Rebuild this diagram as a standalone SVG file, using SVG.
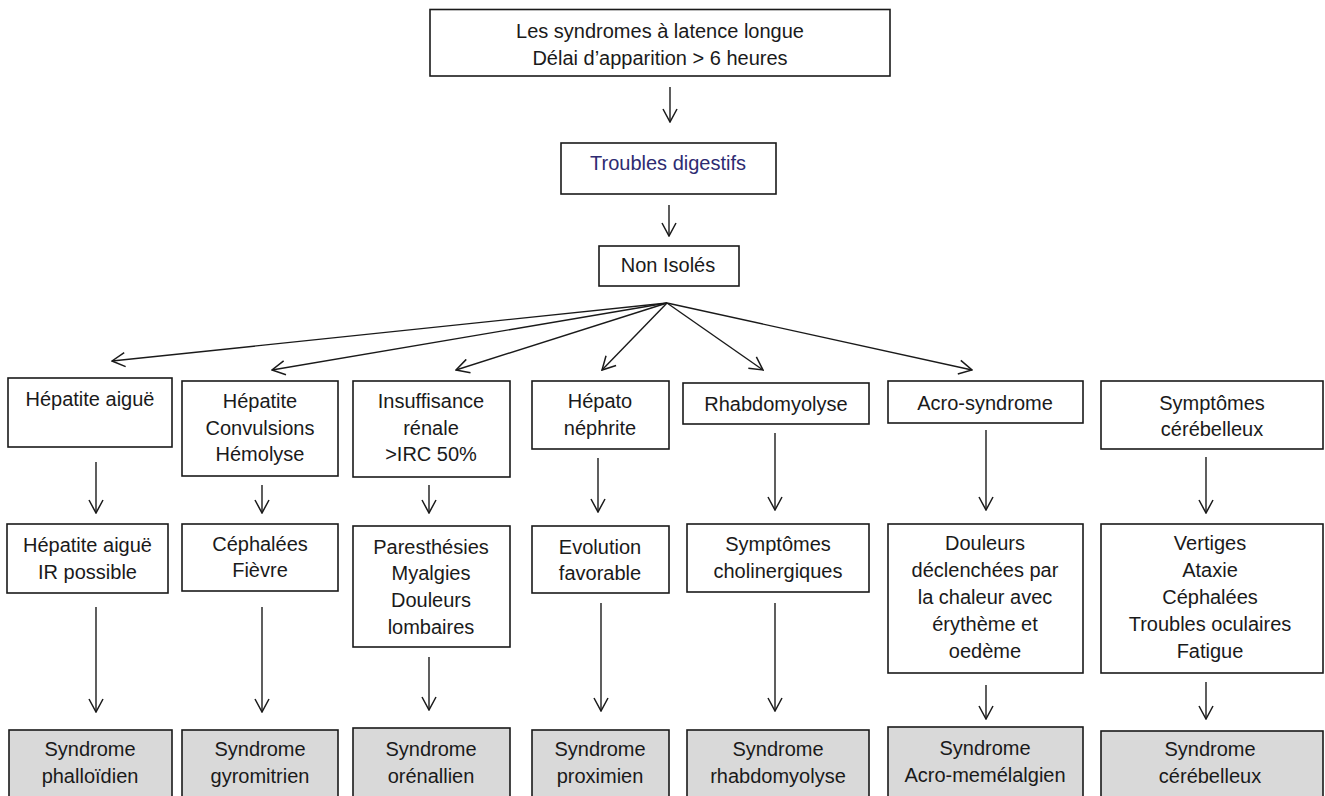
<svg xmlns="http://www.w3.org/2000/svg" width="1325" height="796" viewBox="0 0 1325 796">
<style>
.box{fill:#ffffff;stroke:#1a1a1a;stroke-width:1.6}
.end{fill:#d9d9d9;stroke:#1a1a1a;stroke-width:1.6}
.t{font-family:"Liberation Sans",Arial,sans-serif;font-size:20px;fill:#1a1a1a;text-anchor:middle}
.navy{fill:#2e2b72}
.c{stroke:#1a1a1a;stroke-width:1.4;fill:none;marker-end:url(#ah)}
</style>
<defs>
<marker id="ah" markerUnits="userSpaceOnUse" markerWidth="16" markerHeight="16" viewBox="0 0 16 16" refX="15" refY="8" orient="auto">
<path d="M2,1 L15,8 L2,15" fill="none" stroke="#1a1a1a" stroke-width="1.5"/>
</marker>
</defs>
<rect width="1325" height="796" fill="#ffffff"/>

<g id="connectors">
<line class="c" x1="670" y1="87" x2="670" y2="122"/>
<line class="c" x1="669" y1="205" x2="669" y2="236"/>
<line class="c" x1="667" y1="303" x2="112" y2="361"/>
<line class="c" x1="667" y1="303" x2="272" y2="370"/>
<line class="c" x1="667" y1="303" x2="456" y2="370"/>
<line class="c" x1="667" y1="303" x2="602" y2="370"/>
<line class="c" x1="667" y1="303" x2="763" y2="370"/>
<line class="c" x1="667" y1="303" x2="972" y2="370"/>
<line class="c" x1="96" y1="462" x2="96" y2="513"/>
<line class="c" x1="262" y1="485" x2="262" y2="513"/>
<line class="c" x1="429" y1="485" x2="429" y2="513"/>
<line class="c" x1="598" y1="458" x2="598" y2="512"/>
<line class="c" x1="775" y1="433" x2="775" y2="510"/>
<line class="c" x1="986" y1="430" x2="986" y2="510"/>
<line class="c" x1="1206" y1="457" x2="1206" y2="513"/>
<line class="c" x1="96" y1="607" x2="96" y2="712"/>
<line class="c" x1="262" y1="607" x2="262" y2="712"/>
<line class="c" x1="429" y1="657" x2="429" y2="710"/>
<line class="c" x1="601" y1="603" x2="601" y2="711"/>
<line class="c" x1="775" y1="603" x2="775" y2="711"/>
<line class="c" x1="986" y1="685" x2="986" y2="719"/>
<line class="c" x1="1206" y1="682" x2="1206" y2="719"/>
</g>

<g id="top">
<rect class="box" x="430" y="9.5" width="460" height="66.5"/>
<text class="t" x="660" y="38">Les syndromes à latence longue</text>
<text class="t" x="660" y="65">Délai d’apparition &gt; 6 heures</text>
</g>
<g id="troubles">
<rect class="box" x="561" y="143" width="215" height="51"/>
<text class="t navy" x="668" y="170">Troubles digestifs</text>
</g>
<g id="nonisoles">
<rect class="box" x="599" y="246" width="140" height="40"/>
<text class="t" x="668" y="272">Non Isolés</text>
</g>

<g id="r1c1">
<rect class="box" x="8" y="378" width="164" height="69"/>
<text class="t" x="90" y="406">Hépatite aiguë</text>
</g>
<g id="r1c2">
<rect class="box" x="182" y="381" width="156" height="95"/>
<text class="t" x="260" y="408">Hépatite</text>
<text class="t" x="260" y="435">Convulsions</text>
<text class="t" x="260" y="461">Hémolyse</text>
</g>
<g id="r1c3">
<rect class="box" x="353" y="381" width="157" height="96"/>
<text class="t" x="431" y="408">Insuffisance</text>
<text class="t" x="431" y="435">rénale</text>
<text class="t" x="431" y="461">&gt;IRC 50%</text>
</g>
<g id="r1c4">
<rect class="box" x="532" y="381" width="137" height="68"/>
<text class="t" x="600" y="408">Hépato</text>
<text class="t" x="600" y="435">néphrite</text>
</g>
<g id="r1c5">
<rect class="box" x="683" y="383" width="186" height="41"/>
<text class="t" x="776" y="411">Rhabdomyolyse</text>
</g>
<g id="r1c6">
<rect class="box" x="888" y="381" width="195" height="42"/>
<text class="t" x="985" y="410">Acro-syndrome</text>
</g>
<g id="r1c7">
<rect class="box" x="1101" y="381" width="222" height="68"/>
<text class="t" x="1212" y="410">Symptômes</text>
<text class="t" x="1212" y="436">cérébelleux</text>
</g>

<g id="r2c1">
<rect class="box" x="7" y="524" width="161" height="69"/>
<text class="t" x="87.5" y="552">Hépatite aiguë</text>
<text class="t" x="87.5" y="579">IR possible</text>
</g>
<g id="r2c2">
<rect class="box" x="182" y="524" width="156" height="67"/>
<text class="t" x="260" y="551">Céphalées</text>
<text class="t" x="260" y="577">Fièvre</text>
</g>
<g id="r2c3">
<rect class="box" x="353" y="526" width="157" height="121"/>
<text class="t" x="431" y="554">Paresthésies</text>
<text class="t" x="431" y="580">Myalgies</text>
<text class="t" x="431" y="607">Douleurs</text>
<text class="t" x="431" y="634">lombaires</text>
</g>
<g id="r2c4">
<rect class="box" x="532" y="526" width="137" height="67"/>
<text class="t" x="600" y="554">Evolution</text>
<text class="t" x="600" y="580">favorable</text>
</g>
<g id="r2c5">
<rect class="box" x="687" y="524" width="182" height="68"/>
<text class="t" x="778" y="551">Symptômes</text>
<text class="t" x="778" y="578">cholinergiques</text>
</g>
<g id="r2c6">
<rect class="box" x="888" y="524" width="195" height="149"/>
<text class="t" x="985" y="550">Douleurs</text>
<text class="t" x="985" y="577">déclenchées par</text>
<text class="t" x="985" y="604">la chaleur avec</text>
<text class="t" x="985" y="631">érythème  et</text>
<text class="t" x="985" y="658">oedème</text>
</g>
<g id="r2c7">
<rect class="box" x="1101" y="524" width="222" height="149"/>
<text class="t" x="1210" y="550">Vertiges</text>
<text class="t" x="1210" y="577">Ataxie</text>
<text class="t" x="1210" y="604">Céphalées</text>
<text class="t" x="1210" y="631">Troubles oculaires</text>
<text class="t" x="1210" y="658">Fatigue</text>
</g>

<g id="r3c1">
<rect class="end" x="9" y="730" width="163" height="80"/>
<text class="t" x="90" y="756">Syndrome</text>
<text class="t" x="90" y="783">phalloïdien</text>
</g>
<g id="r3c2">
<rect class="end" x="182" y="730" width="156" height="80"/>
<text class="t" x="260" y="756">Syndrome</text>
<text class="t" x="260" y="783">gyromitrien</text>
</g>
<g id="r3c3">
<rect class="end" x="353" y="728" width="157" height="82"/>
<text class="t" x="431" y="756">Syndrome</text>
<text class="t" x="431" y="783">orénallien</text>
</g>
<g id="r3c4">
<rect class="end" x="532" y="730" width="137" height="80"/>
<text class="t" x="600" y="756">Syndrome</text>
<text class="t" x="600" y="783">proximien</text>
</g>
<g id="r3c5">
<rect class="end" x="687" y="730" width="182" height="80"/>
<text class="t" x="778" y="756">Syndrome</text>
<text class="t" x="778" y="783">rhabdomyolyse</text>
</g>
<g id="r3c6">
<rect class="end" x="888" y="727" width="195" height="83"/>
<text class="t" x="985" y="755">Syndrome</text>
<text class="t" x="985" y="782">Acro-memélalgien</text>
</g>
<g id="r3c7">
<rect class="end" x="1101" y="731" width="222" height="79"/>
<text class="t" x="1210" y="756">Syndrome</text>
<text class="t" x="1210" y="783">cérébelleux</text>
</g>
</svg>
